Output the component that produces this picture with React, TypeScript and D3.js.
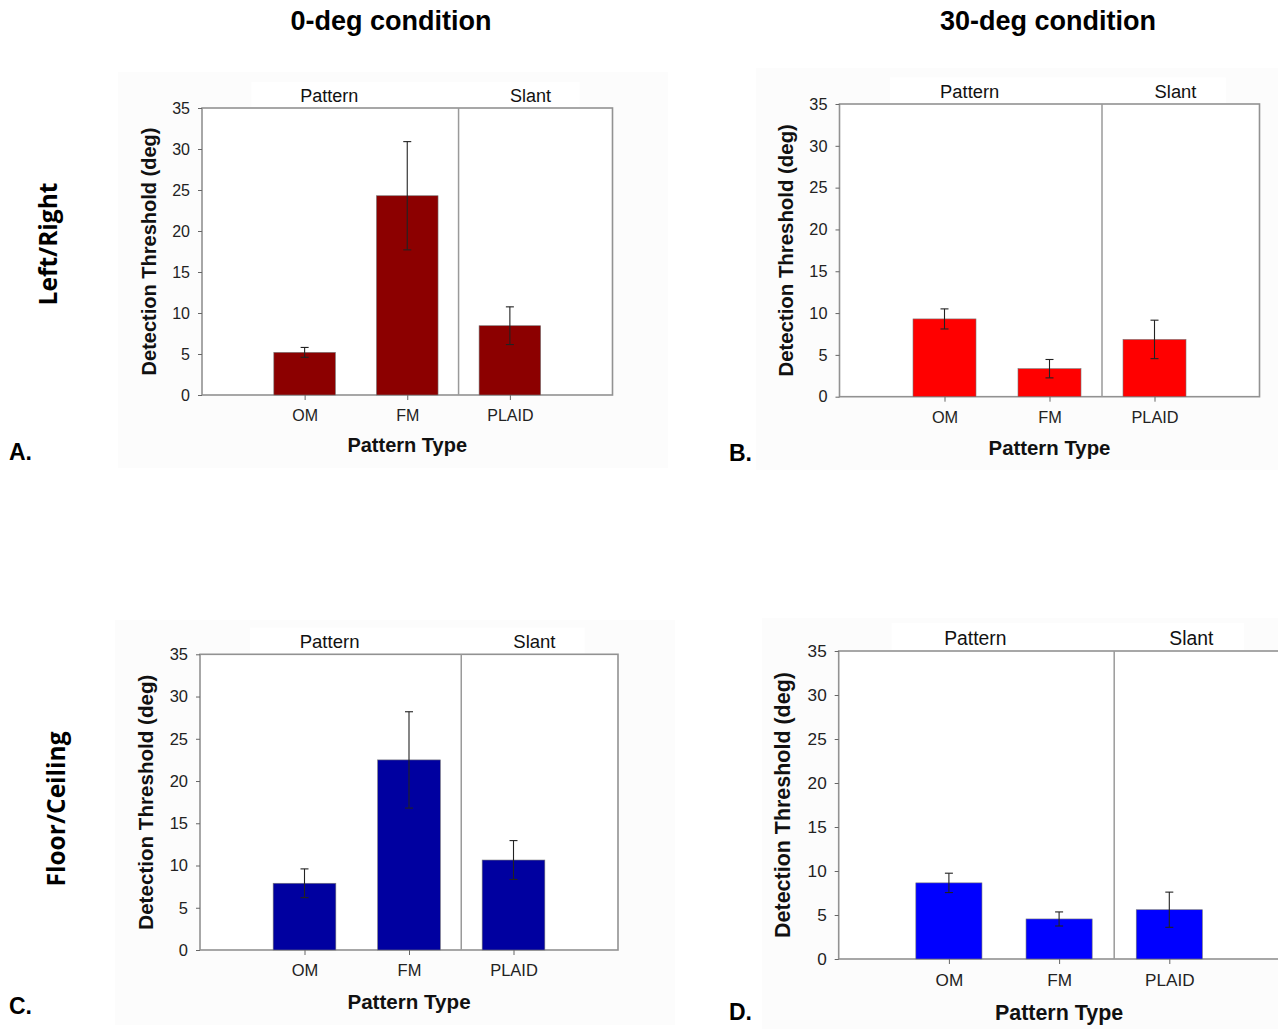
import React, { useEffect, useRef } from 'react';
import * as d3 from 'd3';

// Detection thresholds (deg), mean and error bar half-length
const categories = ['OM', 'FM', 'PLAID'];
const groupLabels = ['Pattern', 'Slant'];
const yTicks = [0, 5, 10, 15, 20, 25, 30, 35];
const columnTitles = ['0-deg condition', '30-deg condition'];
const rowTitles = ['Left/Right', 'Floor/Ceiling'];

const leftRightZeroMeans = [5.2, 24.3, 8.45];
const leftRightZeroErrs = [0.6, 6.6, 2.3];
const leftRightThirtyMeans = [9.3, 3.35, 6.85];
const leftRightThirtyErrs = [1.2, 1.1, 2.3];
const floorCeilingZeroMeans = [7.9, 22.5, 10.65];
const floorCeilingZeroErrs = [1.7, 5.7, 2.3];
const floorCeilingThirtyMeans = [8.65, 4.55, 5.6];
const floorCeilingThirtyErrs = [1.1, 0.8, 2.0];

const FONT = '"Liberation Sans", Arial, sans-serif';

const panels = [
  { letter: 'A.', means: leftRightZeroMeans, errs: leftRightZeroErrs, color: '#8c0000',
    frame: { left: 202, right: 612.5, top: 108, bottom: 395 }, bg: [118, 72, 550, 396], letterPos: [9, 460] },
  { letter: 'B.', means: leftRightThirtyMeans, errs: leftRightThirtyErrs, color: '#ff0000',
    frame: { left: 839.5, right: 1259.5, top: 104, bottom: 396.7 }, bg: [756, 68, 522, 402], letterPos: [729, 461] },
  { letter: 'C.', means: floorCeilingZeroMeans, errs: floorCeilingZeroErrs, color: '#0000a0',
    frame: { left: 200, right: 618, top: 654.3, bottom: 950 }, bg: [115, 620, 560, 405], letterPos: [9, 1014] },
  { letter: 'D.', means: floorCeilingThirtyMeans, errs: floorCeilingThirtyErrs, color: '#0000ff',
    frame: { left: 838.7, right: 1279.5, top: 651, bottom: 959 }, bg: [762, 618, 516, 411], letterPos: [729, 1020] },
];

export default function App() {
  const svgRef = useRef<SVGSVGElement>(null);

  useEffect(() => {
    const svg = d3.select(svgRef.current);
    svg.selectAll('*').remove();
    svg.append('rect').attr('width', 1278).attr('height', 1029).attr('fill', '#fff');

    // Column + row headings
    svg.selectAll('.col-title').data(columnTitles).join('text')
      .attr('x', (d, i) => [391, 1048][i]).attr('y', 30)
      .attr('text-anchor', 'middle').attr('font-family', FONT).attr('font-weight', 700)
      .attr('font-size', 27).attr('fill', '#000').text(d => d);

    svg.selectAll('.row-title').data(rowTitles).join('text')
      .attr('transform', (d, i) => `translate(${[57, 65][i]},${[244, 809][i]}) rotate(-90)`)
      .attr('text-anchor', 'middle').attr('font-family', '"Open Sans", sans-serif').attr('font-weight', 700)
      .attr('font-size', 24.5).attr('fill', '#000').text(d => d);

    panels.forEach(p => {
      const { left, right, top, bottom } = p.frame;
      const k = (bottom - top) / 287;
      const g = svg.append('g');

      g.append('rect').attr('x', p.bg[0]).attr('y', p.bg[1]).attr('width', p.bg[2]).attr('height', p.bg[3])
        .attr('fill', '#fcfcfc');

      const x = d3.scalePoint().domain(categories).range([left, right]).padding(1);
      const y = d3.scaleLinear().domain([0, 35]).range([bottom, top]);
      const barW = x.step() * 0.6;
      const w = right - left;
      const divX = ((x('FM') as number) + (x('PLAID') as number)) / 2;

      // white strip behind the group labels
      g.append('rect').attr('x', left + w * 0.12).attr('y', top - 26 * k)
        .attr('width', w * 0.8).attr('height', 26 * k).attr('fill', '#fff');

      g.append('rect').attr('x', left).attr('y', top).attr('width', w).attr('height', bottom - top)
        .attr('fill', '#fff').attr('stroke', '#929292').attr('stroke-width', 1.6);
      g.append('line').attr('x1', divX).attr('x2', divX).attr('y1', top).attr('y2', bottom)
        .attr('stroke', '#9a9a9a').attr('stroke-width', 1.5);

      // Bars
      g.selectAll('.bar').data(p.means).join('rect')
        .attr('x', (d, i) => (x(categories[i]) as number) - barW / 2)
        .attr('y', d => y(d)).attr('width', barW).attr('height', d => bottom - y(d))
        .attr('fill', p.color).attr('stroke', '#777').attr('stroke-width', 0.6);

      // Error bars
      const eb = g.selectAll('.err').data(p.means).join('g').attr('stroke', '#222').attr('stroke-width', 1.1);
      eb.append('line')
        .attr('x1', (d, i) => x(categories[i]) as number).attr('x2', (d, i) => x(categories[i]) as number)
        .attr('y1', (d, i) => y(d + p.errs[i])).attr('y2', (d, i) => y(d - p.errs[i]));
      [1, -1].forEach(s => {
        eb.append('line')
          .attr('x1', (d, i) => (x(categories[i]) as number) - 4).attr('x2', (d, i) => (x(categories[i]) as number) + 4)
          .attr('y1', (d, i) => y(d + s * p.errs[i])).attr('y2', (d, i) => y(d + s * p.errs[i]));
      });

      // Axes
      const yAxis = g.append('g').attr('transform', `translate(${left},0)`)
        .call(d3.axisLeft(y).tickValues(yTicks).tickSize(4).tickSizeOuter(0).tickPadding(8));
      const xAxis = g.append('g').attr('transform', `translate(0,${bottom})`)
        .call(d3.axisBottom(x).tickSize(5).tickSizeOuter(0).tickPadding(9.5 * k));
      [yAxis, xAxis].forEach(a => {
        a.select('.domain').remove();
        a.selectAll('line').attr('stroke', '#666');
        a.selectAll('text').attr('font-family', FONT).attr('font-size', 16 * k).attr('fill', '#222');
      });

      // Group labels above the frame
      g.selectAll('.grp').data(groupLabels).join('text')
        .attr('x', (d, i) => left + w * [0.31, 0.8][i]).attr('y', top - 6 * k)
        .attr('text-anchor', 'middle').attr('font-family', FONT).attr('font-size', 18 * k)
        .attr('fill', '#111').text(d => d);

      // Axis titles
      g.append('text').attr('transform', `translate(${left - 51 * k},${(top + bottom) / 2}) rotate(-90)`)
        .attr('text-anchor', 'middle').attr('dominant-baseline', 'middle')
        .attr('font-family', FONT).attr('font-weight', 700).attr('font-size', 20 * k).attr('fill', '#111')
        .text('Detection Threshold (deg)');
      g.append('text').attr('x', x('FM') as number).attr('y', bottom + 57 * k)
        .attr('text-anchor', 'middle').attr('font-family', FONT).attr('font-weight', 700)
        .attr('font-size', 20 * k).attr('fill', '#111').text('Pattern Type');

      svg.append('text').attr('x', p.letterPos[0]).attr('y', p.letterPos[1])
        .attr('font-family', FONT).attr('font-weight', 700).attr('font-size', 23).attr('fill', '#000')
        .text(p.letter);
    });
  }, []);

  return (
    <div style={{ position: 'absolute', left: 0, top: 0 }}>
      <svg ref={svgRef} width={1278} height={1029} style={{ display: 'block' }} />
    </div>
  );
}
